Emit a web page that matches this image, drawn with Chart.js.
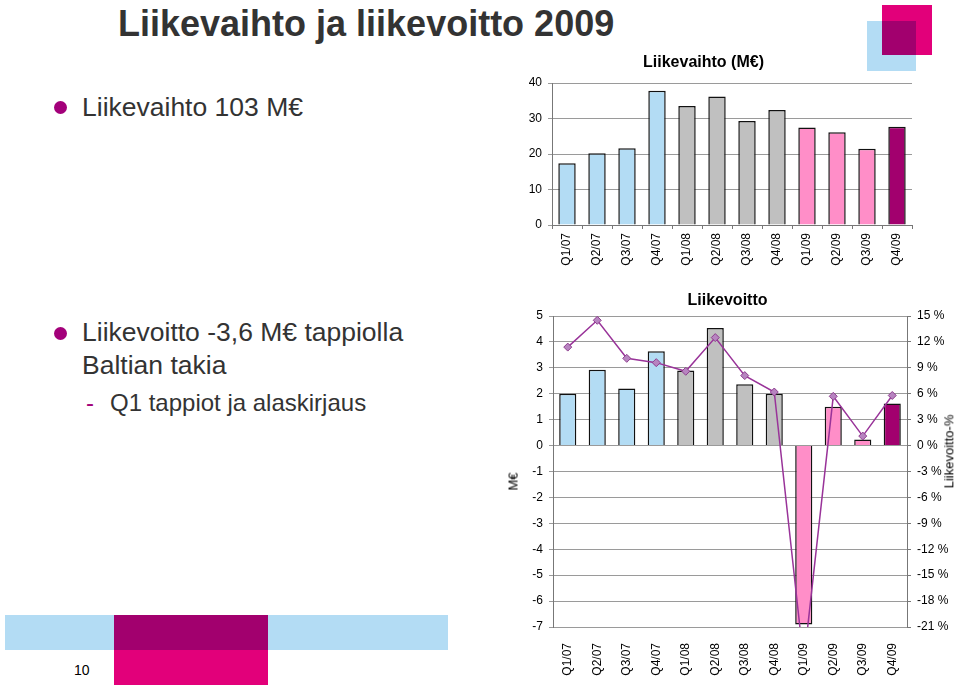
<!DOCTYPE html>
<html>
<head>
<meta charset="utf-8">
<script src="https://cdn.jsdelivr.net/npm/chart.js@4"></script>
<style>
body{margin:0;width:960px;height:687px;position:relative;overflow:hidden;background:#fff;font-family:"Liberation Sans",Arial,sans-serif;color:#333}
.abs{position:absolute;white-space:nowrap}
.dot{position:absolute;width:13px;height:13px;border-radius:50%;background:#a3007a}
.box{position:absolute}
</style>
</head>
<body>
<div class="abs" style="left:118px;top:3px;font-size:36px;font-weight:bold;">Liikevaihto ja liikevoitto 2009</div>

<div class="dot" style="left:54px;top:101px"></div>
<div class="abs" style="left:82px;top:92px;font-size:26.5px;">Liikevaihto 103 M€</div>

<div class="dot" style="left:54px;top:327px"></div>
<div class="abs" style="left:82px;top:316px;font-size:26.5px;line-height:33px;">Liikevoitto -3,6 M€ tappiolla<br>Baltian takia</div>
<div class="abs" style="left:86px;top:389px;font-size:24px;color:#a3007a;">-</div>
<div class="abs" style="left:110px;top:389px;font-size:24px;">Q1 tappiot ja alaskirjaus</div>

<!-- decoration -->
<div class="box" style="left:867px;top:21px;width:49px;height:50px;background:#b3dcf4"></div>
<div class="box" style="left:882px;top:5px;width:50px;height:50px;background:#e2007a"></div>
<div class="box" style="left:882px;top:21px;width:34px;height:34px;background:#a2006e"></div>

<div class="box" style="left:5px;top:615px;width:443px;height:35px;background:#b3dcf4"></div>
<div class="box" style="left:114px;top:615px;width:154px;height:70px;background:#e2007a"></div>
<div class="box" style="left:114px;top:615px;width:154px;height:35px;background:#a2006e"></div>
<div class="abs" style="left:74px;top:662px;font-size:14px;color:#000">10</div>

<div class="abs" style="left:495px;top:45px;width:430px;height:245px"><canvas id="sales"></canvas></div>
<div class="abs" style="left:495px;top:290px;width:465px;height:397px"><canvas id="ebit"></canvas></div>

<div class="abs" style="left:504px;top:474px;font-size:13px;color:#000;transform:rotate(-90deg);transform-origin:center">M€</div>
<div class="abs" style="left:912px;top:444px;font-size:13px;color:#000;transform:rotate(-90deg);transform-origin:center">Liikevoitto-%</div>

<script>
var quarters = ["Q1/07","Q2/07","Q3/07","Q4/07","Q1/08","Q2/08","Q3/08","Q4/08","Q1/09","Q2/09","Q3/09","Q4/09"];
var liikevaihto = [17.4, 20.2, 21.6, 37.8, 33.5, 36.2, 29.3, 32.4, 27.5, 26.1, 21.5, 27.7];
var liikevoitto = [2.0, 2.93, 2.2, 3.64, 2.9, 4.54, 2.37, 2.0, -6.9, 1.5, 0.23, 1.62];
var liikevoittoPct = [11.4, 14.5, 10.1, 9.6, 8.6, 12.5, 8.1, 6.2, -25.1, 5.7, 1.1, 5.8];
var barColors = ["#b3dcf4","#b3dcf4","#b3dcf4","#b3dcf4","#c0c0c0","#c0c0c0","#c0c0c0","#c0c0c0","#ff8ec8","#ff8ec8","#ff8ec8","#a2006e"];

Chart.defaults.font.family = '"Liberation Sans", Arial, sans-serif';
Chart.defaults.font.size = 12;
Chart.defaults.color = "#000";

var gridGray = "#9a9a9a";

var ctx = document.getElementById("sales");
var salesChart = new Chart(ctx, {
  type: 'bar',
  data: {
    labels: quarters,
    datasets: [{
      data: liikevaihto,
      backgroundColor: barColors,
      borderColor: "#111",
      borderWidth: 1.5,
      barPercentage: 0.58,
      categoryPercentage: 1
    }]
  },
  options: {
    responsive: true,
    maintainAspectRatio: false,
    animation: false,
    layout: {padding: {right: 13}},
    plugins: {
      legend: {display: false},
      tooltip: {enabled: false},
      title: {display: true, text: "Liikevaihto (M€)", font: {size: 16, weight: 'bold'}, color: "#000", padding: {top: 8.4, bottom: 10.4}}
    },
    scales: {
      x: {
        grid: {display: true, drawOnChartArea: false, tickLength: 4, color: "#777"},
        border: {color: "#777"},
        ticks: {minRotation: 90, maxRotation: 90, padding: 4},
        afterFit: function(s){ s.height = 65; }
      },
      y: {
        min: 0, max: 40,
        ticks: {stepSize: 10, padding: 6},
        grid: {color: gridGray, drawTicks: true, tickLength: 4},
        border: {color: "#777"},
        afterFit: function(s){ s.width = 57; }
      }
    }
  }
});

var ctx2 = document.getElementById("ebit");
var ebitChart = new Chart(ctx2, {
  type: 'bar',
  data: {
    labels: quarters,
    datasets: [
      {
        type: 'line',
        data: liikevoittoPct,
        yAxisID: 'y1',
        borderColor: "#993399",
        borderWidth: 1.5,
        pointStyle: 'rectRot',
        pointRadius: 4,
        pointBackgroundColor: "#b784c0",
        pointBorderColor: "#8e3d8e",
        pointBorderWidth: 1,
        order: 0,
        clip: {left: 5, right: 5, top: 5, bottom: 0}
      },
      {
        data: liikevoitto,
        yAxisID: 'y',
        backgroundColor: barColors,
        borderColor: "#111",
        borderWidth: 1.5,
        barPercentage: 0.58,
        categoryPercentage: 1,
        order: 1
      }
    ]
  },
  options: {
    responsive: true,
    maintainAspectRatio: false,
    animation: false,
    plugins: {
      legend: {display: false},
      tooltip: {enabled: false},
      title: {display: true, text: "Liikevoitto", font: {size: 16, weight: 'bold'}, color: "#000", padding: {top: 1.4, bottom: 5.4}}
    },
    scales: {
      x: {
        grid: {display: false},
        border: {display: false},
        ticks: {minRotation: 90, maxRotation: 90, padding: 8},
        afterFit: function(s){ s.height = 60; }
      },
      y: {
        position: 'left',
        min: -7, max: 5,
        ticks: {stepSize: 1, padding: 6},
        grid: {color: gridGray, tickLength: 4},
        border: {color: "#777"},
        afterFit: function(s){ s.width = 58; }
      },
      y1: {
        position: 'right',
        min: -21, max: 15,
        ticks: {stepSize: 3, padding: 6, callback: function(v){ return v + " %"; }},
        grid: {drawOnChartArea: false, tickLength: 4, color: "#777"},
        border: {color: "#777"},
        afterFit: function(s){ s.width = 53; }
      }
    }
  }
});
</script>
</body>
</html>
